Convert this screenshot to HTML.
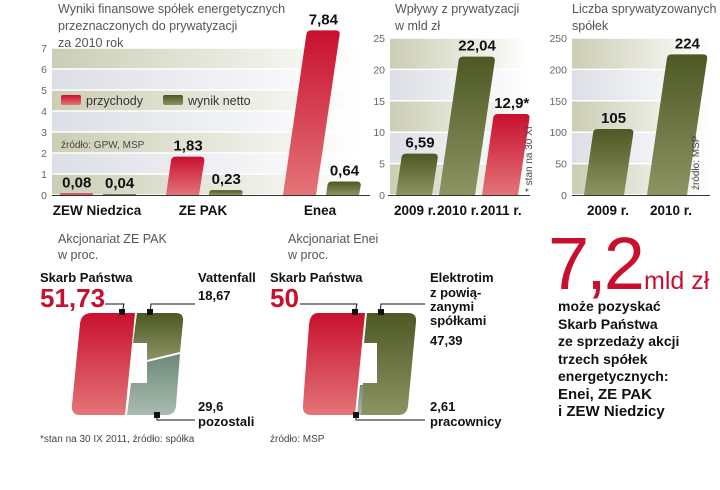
<!DOCTYPE html>
<html><head><meta charset="utf-8"><style>
body{margin:0;background:#fff;}
svg{display:block;font-family:"Liberation Sans",sans-serif;}
.t{fill:#555;font-size:12.5px;}
.ax{fill:#666;font-size:10.5px;}
.cat{fill:#111;font-size:13.5px;font-weight:bold;}
.val{fill:#111;font-size:15px;font-weight:bold;}
.lab{fill:#111;font-size:13px;font-weight:bold;}
.src{fill:#444;font-size:10px;}
</style></head><body>
<svg id="s" width="720" height="490" viewBox="0 0 720 490" xmlns="http://www.w3.org/2000/svg">
<defs>
<linearGradient id="gr" x1="0" y1="0" x2="0" y2="1"><stop offset="0" stop-color="#c8102e"/><stop offset="1" stop-color="#e47478"/></linearGradient>
<linearGradient id="gg" x1="0" y1="0" x2="0" y2="1"><stop offset="0" stop-color="#4d5823"/><stop offset="1" stop-color="#8c9464"/></linearGradient>
<linearGradient id="gs" x1="0" y1="0" x2="0" y2="1"><stop offset="0" stop-color="#6d8a78"/><stop offset="1" stop-color="#a9bbb0"/></linearGradient>
<linearGradient id="b1" x1="0" y1="0" x2="1" y2="0"><stop offset="0" stop-color="#cbcdb4"/><stop offset="1" stop-color="#fff"/></linearGradient>
<linearGradient id="b2" x1="0" y1="0" x2="1" y2="0"><stop offset="0" stop-color="#dcdfe5"/><stop offset="1" stop-color="#fff"/></linearGradient>
</defs>
<g id="c1">
<text class="t" x="58" y="13">Wyniki finansowe spółek energetycznych</text>
<text class="t" x="58" y="30">przeznaczonych do prywatyzacji</text>
<text class="t" x="58" y="47">za 2010 rok</text>
<text class="t" x="58" y="63">w mld zł</text>
</g>
<g id="c2">
<text class="t" x="395" y="13">Wpływy z prywatyzacji</text>
<text class="t" x="395" y="30">w mld zł</text>
</g>
<g id="c3">
<text class="t" x="572" y="13">Liczba sprywatyzowanych</text>
<text class="t" x="572" y="30">spółek</text>
</g>

<g>
<text class="t" x="58" y="243">Akcjonariat ZE PAK</text>
<text class="t" x="58" y="259">w proc.</text>
<text class="lab" x="40" y="282">Skarb Państwa</text>
<text x="40" y="307" fill="#c8102e" font-size="26" font-weight="bold">51,73</text>
<text class="lab" x="198" y="282">Vattenfall</text>
<text class="lab" x="198" y="300" font-size="15">18,67</text>
<text class="lab" x="198" y="411" font-size="15">29,6</text>
<text class="lab" x="198" y="426">pozostali</text>
<path d="M92 313 L135 313 L125 415 L80 415 Q71 415 72 405 L80 324 Q81 313 92 313 Z" fill="url(#gr)"/>
<path d="M137 313 L176 313 Q184 313 183 322 L180 352 L147 360 L147 343 L133 343 Z" fill="url(#gg)"/>
<path d="M147 362 L180 354 L176 406 Q175 415 166 415 L127 415 L131 383 L147 383 Z" fill="url(#gs)"/>
<path d="M105 304 L124 304 L122 313 M150 313 L151 304 L195 304 M157 415 L157 420 L195 420" stroke="#111" fill="none" stroke-width="1"/>
<rect x="119" y="309" width="6" height="6" fill="#111"/><rect x="147" y="309" width="6" height="6" fill="#111"/><rect x="154" y="412" width="6" height="6" fill="#111"/>
<text class="src" x="40" y="442">*stan na 30 IX 2011, źródło: spółka</text>
</g>

<g>
<text class="t" x="288" y="243">Akcjonariat Enei</text>
<text class="t" x="288" y="259">w proc.</text>
<text class="lab" x="270" y="282">Skarb Państwa</text>
<text x="270" y="307" fill="#c8102e" font-size="26" font-weight="bold">50</text>
<text class="lab" x="430" y="282">Elektrotim</text>
<text class="lab" x="430" y="297">z powią-</text>
<text class="lab" x="430" y="311">zanymi</text>
<text class="lab" x="430" y="325">spółkami</text>
<text class="lab" x="430" y="345" font-size="15">47,39</text>
<text class="lab" x="430" y="411" font-size="15">2,61</text>
<text class="lab" x="430" y="426">pracownicy</text>
<path d="M318 313 L365 313 L355 415 L311 415 Q302 415 303 405 L309 325 Q310 313 318 313 Z" fill="url(#gr)"/>
<path d="M367 313 L408 313 Q417 313 416 322 L408 406 Q407 415 398 415 L361 415 L363 383 L377 383 L377 343 L364 343 Z" fill="url(#gg)"/>
<path d="M357 415 L360 385 L363 385 L361 415 Z" fill="url(#gs)"/>
<path d="M300 304 L357 304 L355 313 M380 313 L381 304 L425 304 M356 415 L356 420 L425 420" stroke="#111" fill="none"/>
<rect x="352" y="309" width="6" height="6" fill="#111"/><rect x="378" y="309" width="6" height="6" fill="#111"/><rect x="353" y="412" width="6" height="6" fill="#111"/>
<text class="src" x="270" y="442">źródło: MSP</text>
</g>

<g>
<text x="548" y="289" fill="#c8102e" font-size="74" font-weight="normal" letter-spacing="-3">7,2</text>
<text x="644" y="289" fill="#c8102e" font-size="25">mld zł</text>
<g font-size="14" fill="#111" font-weight="bold">
<text x="558" y="311">może pozyskać</text>
<text x="558" y="329">Skarb Państwa</text>
<text x="558" y="346">ze sprzedaży akcji</text>
<text x="558" y="364">trzech spółek</text>
<text x="558" y="381">energetycznych:</text>
<text x="558" y="399" font-size="15">Enei, ZE PAK</text>
<text x="558" y="416" font-size="15">i ZEW Niedzicy</text>
</g></g>
</svg>
<script>
// Chart 1 data
const cats1 = ["ZEW Niedzica", "ZE PAK", "Enea"];
const revenue1 = [0.08, 1.83, 7.84];
const net1 = [0.04, 0.23, 0.64];
const revLabels1 = ["0,08", "1,83", "7,84"];
const netLabels1 = ["0,04", "0,23", "0,64"];
const ticks1 = [0, 1, 2, 3, 4, 5, 6, 7];
// Chart 2 data
const cats2 = ["2009 r.", "2010 r.", "2011 r."];
const income2 = [6.59, 22.04, 12.9];
const incomeLabels2 = ["6,59", "22,04", "12,9*"];
const ticks2 = [0, 5, 10, 15, 20, 25];
// Chart 3 data
const cats3 = ["2009 r.", "2010 r."];
const count3 = [105, 224];
const countLabels3 = ["105", "224"];
const ticks3 = [0, 50, 100, 150, 200, 250];

const NS = "http://www.w3.org/2000/svg";
function mk(tag, attrs, parent, txt){const e=document.createElementNS(NS,tag);for(const k in attrs)e.setAttribute(k,attrs[k]);if(txt!==undefined)e.textContent=txt;parent.appendChild(e);return e;}
function bar(parent,x,y0,yt,w,fill){
  const h=y0-yt, s=h*0.145, r=Math.min(4,h/2);
  const d=`M${x} ${y0} L${x+s-0.5} ${yt+r} Q${x+s} ${yt} ${x+s+r} ${yt} L${x+w+s-r} ${yt} Q${x+w+s} ${yt} ${x+w+s-0.2} ${yt+r} L${x+w} ${y0} Z`;
  return {p:mk("path",{d:d,fill:fill},parent),cx:x+s+w/2};
}
function bands(g,ticks,y,x0,x1){
  for(let i=0;i<ticks.length-1;i++){
    const ya=y(ticks[i+1]), yb=y(ticks[i]);
    mk("rect",{x:x0,y:ya,width:x1-x0,height:yb-ya,fill:i%2?"url(#b2)":"url(#b1)"},g);
  }
  ticks.forEach(t=>{
    mk("line",{x1:x0,x2:x1,y1:y(t),y2:y(t),stroke:"#fff","stroke-width":1.5},g);
    const lb=mk("text",{x:x0-5,y:y(t)+4,"text-anchor":"end",class:"ax"},g,String(t));
    
    
  });
}
// Chart 1
(function(){
  const g=document.getElementById("c1");
  const y=v=>195-v*21;
  bands(g,ticks1,y,52,360);
  const lg=mk("g",{},g);
  
  
  mk("rect",{x:61,y:95,width:20,height:10,rx:2,fill:"url(#gr)"},lg);
  mk("text",{x:86,y:105,fill:"#333","font-size":"12.5"},lg,"przychody");
  mk("rect",{x:163,y:95,width:20,height:10,rx:2,fill:"url(#gg)"},lg);
  mk("text",{x:188,y:105,fill:"#333","font-size":"12.5"},lg,"wynik netto");
  const sr=mk("text",{x:61,y:148,class:"src"},g,"źródło: GPW, MSP");
  
  
  const centers=[97,203,320];
  cats1.forEach((c,i)=>{
    const cx=centers[i];
    const b1=bar(g,cx-37,195,y(revenue1[i]),33,"url(#gr)");
    
    
    const b2=bar(g,cx+6,195,y(net1[i]),33,"url(#gg)");
    
    
    mk("text",{x:b1.cx,y:y(revenue1[i])-6,"text-anchor":"middle",class:"val"},g,revLabels1[i]);
    mk("text",{x:b2.cx,y:y(net1[i])-6,"text-anchor":"middle",class:"val"},g,netLabels1[i]);
    const cl=mk("text",{x:cx,y:215,"text-anchor":"middle",class:"cat"},g,c);
    
    
  });
  mk("line",{x1:52,x2:370,y1:195.5,y2:195.5,stroke:"#333","stroke-width":1},g);
})();
// Chart 2
(function(){
  const g=document.getElementById("c2");
  const y=v=>195-v*6.28;
  bands(g,ticks2,y,390,530);
  cats2.forEach((c,i)=>{
    const x=396+i*43;
    const b=bar(g,x,195,y(income2[i]),36,i===2?"url(#gr)":"url(#gg)");
    
    
    mk("text",{x:b.cx,y:y(income2[i])-6,"text-anchor":"middle",class:"val"},g,incomeLabels2[i]);
    const cl=mk("text",{x:x+19,y:215,"text-anchor":"middle",class:"cat","font-weight":"normal","font-size":"12.5"},g,c);
    
    
  });
  mk("line",{x1:388,x2:530,y1:195.5,y2:195.5,stroke:"#333"},g);
  mk("text",{x:0,y:0,transform:"translate(532,192) rotate(-90)",class:"src"},g,"* stan na 30 XI");
})();
// Chart 3
(function(){
  const g=document.getElementById("c3");
  const y=v=>195-v*0.628;
  bands(g,ticks3,y,572,710);
  cats3.forEach((c,i)=>{
    const x=584+i*63;
    const b=bar(g,x,195,y(count3[i]),40,"url(#gg)");
    
    
    mk("text",{x:b.cx,y:y(count3[i])-6,"text-anchor":"middle",class:"val"},g,countLabels3[i]);
    const cl=mk("text",{x:x+24,y:215,"text-anchor":"middle",class:"cat","font-weight":"normal","font-size":"12.5"},g,c);
    
    
  });
  mk("line",{x1:572,x2:710,y1:195.5,y2:195.5,stroke:"#333"},g);
  mk("text",{x:0,y:0,transform:"translate(699,190) rotate(-90)",class:"src"},g,"źródło: MSP");
})();
</script>
</body></html>
